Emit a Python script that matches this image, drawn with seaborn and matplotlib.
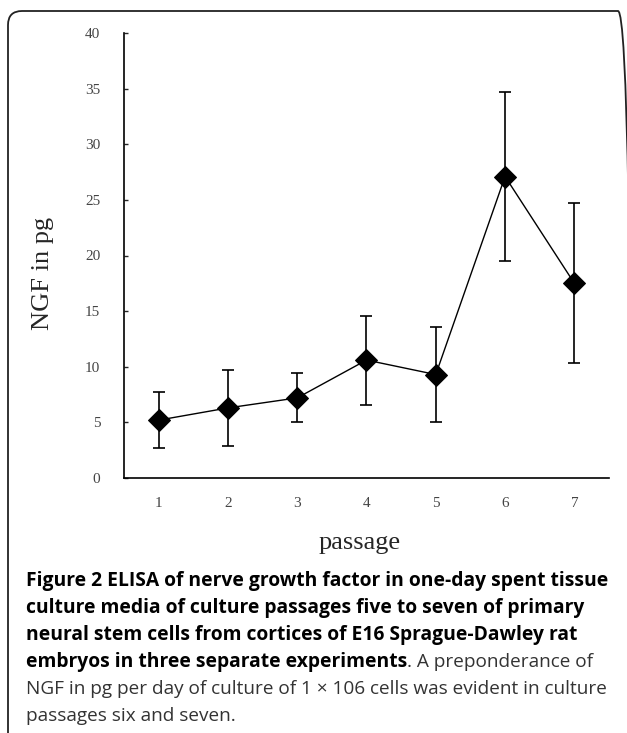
import matplotlib
matplotlib.use("Agg")
import matplotlib.pyplot as plt
from matplotlib.patches import FancyBboxPatch
import seaborn as sns
import pandas as pd

# === Data ===
passage = [1, 2, 3, 4, 5, 6, 7]
ngf_mean = [5.2, 6.3, 7.2, 10.6, 9.3, 27.1, 17.5]
ngf_err = [2.5, 3.4, 2.2, 4.0, 4.3, 7.6, 7.2]
y_ticks = [0, 5, 10, 15, 20, 25, 30, 35, 40]

df = pd.DataFrame({"passage": passage, "ngf": ngf_mean, "err": ngf_err})

sns.set_style("white")
fig = plt.figure(figsize=(6.27, 7.33), dpi=100)
ax = fig.add_axes([124 / 627, 1 - 478 / 733, (609 - 124) / 627, (478 - 33) / 733])

# error bars first, then the line with diamonds on top
ax.errorbar(df["passage"], df["ngf"], yerr=df["err"], fmt="none",
            ecolor="black", elinewidth=1.2, capsize=4.5, capthick=1.2, zorder=2)
sns.lineplot(data=df, x="passage", y="ngf", ax=ax, color="black", linewidth=1.0,
             marker="D", markersize=11, markeredgecolor="black", zorder=3)

ax.set_xlim(0.5, 7.5)
ax.set_ylim(0, 40)
ax.set_xticks(passage)
ax.set_yticks(y_ticks)
ax.tick_params(axis="y", direction="in", length=3, width=1, pad=17, left=True)
ax.tick_params(axis="x", length=0, pad=14)
for lab in ax.get_xticklabels() + ax.get_yticklabels():
    lab.set_family("Liberation Serif")
    lab.set_fontsize(11)
    lab.set_color("#444444")

for s in ["top", "right"]:
    ax.spines[s].set_visible(False)
for s in ["left", "bottom"]:
    ax.spines[s].set_color("black")
    ax.spines[s].set_linewidth(1.2)

ax.set_xlabel("")
ax.set_ylabel("")
fig.text(43 / 627, 1 - 273 / 733, "NGF in pg", family="Liberation Serif", fontsize=19,
         rotation=90, ha="center", va="center")
fig.text(360 / 627, 1 - 543 / 733, "passage", family="Liberation Serif", fontsize=19,
         ha="center", va="center")

# === Caption ===
cap_x = 26 / 627
cap_fs = 13.9
reg_fs = 13.7
cap_kw = dict(family="Open Sans", va="center")
bold_lines = [
    "Figure 2 ELISA of nerve growth factor in one-day spent tissue",
    "culture media of culture passages five to seven of primary",
    "neural stem cells from cortices of E16 Sprague-Dawley rat",
]
line_y = [581, 608, 635, 662, 689, 716]
for txt, yy in zip(bold_lines, line_y[:3]):
    fig.text(cap_x, 1 - yy / 733, txt, fontweight="bold", color="black", fontsize=cap_fs, **cap_kw)
t4 = fig.text(cap_x, 1 - line_y[3] / 733, "embryos in three separate experiments",
              fontweight="bold", color="black", fontsize=cap_fs, **cap_kw)
ax.annotate(". A preponderance of", xy=(1, 0.5), xycoords=t4, va="center", ha="left",
            family="Open Sans", fontsize=reg_fs, color="#333333")
fig.text(cap_x, 1 - line_y[4] / 733,
         "NGF in pg per day of culture of 1 \u00d7 106 cells was evident in culture",
         color="#333333", fontsize=reg_fs, **cap_kw)
fig.text(cap_x, 1 - line_y[5] / 733, "passages six and seven.", color="#333333",
         fontsize=reg_fs, **cap_kw)

# rounded frame around the figure, right edge just off the canvas
frame = FancyBboxPatch((0.08, -0.5), 6.24, 7.72, boxstyle="round,pad=0,rounding_size=0.14",
                       transform=fig.dpi_scale_trans, fill=False, edgecolor="#222222",
                       linewidth=1.3, clip_on=False)
fig.patches.append(frame)

fig.savefig("out.png", dpi=100)
